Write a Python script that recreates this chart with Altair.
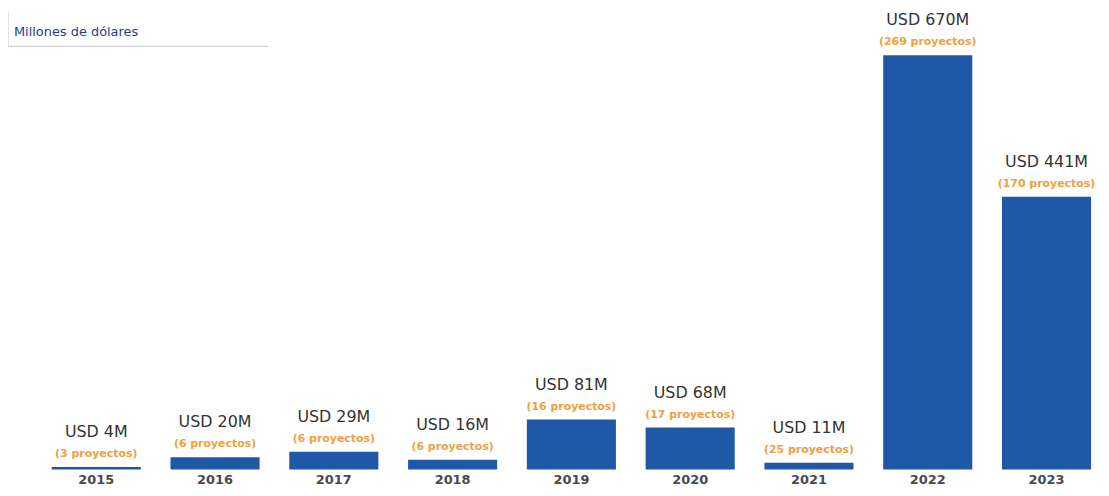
import altair as alt
import pandas as pd

years = ["2015", "2016", "2017", "2018", "2019", "2020", "2021", "2022", "2023"]
values = [4, 20, 29, 16, 81, 68, 11, 670, 441]
projects = [3, 6, 6, 6, 16, 17, 25, 269, 170]

df = pd.DataFrame({
    "year": years,
    "value": values,
    "usd": [f"USD {v}M" for v in values],
    "proj": [f"({p} proyectos)" for p in projects],
})

FONT = "DejaVu Sans"
x = alt.X("year:N", sort=years, title=None,
          scale=alt.Scale(paddingInner=0.25, paddingOuter=0),
          axis=alt.Axis(labelAngle=0, ticks=False, domain=False, labelFont=FONT,
                        labelFontSize=13, labelFontWeight="bold", labelColor="#4a4a4a",
                        labelPadding=4))
y = alt.Y("value:Q", scale=alt.Scale(domain=[0, 670], nice=False), axis=None)

base = alt.Chart(df)
bars = base.mark_bar(color="#1f58a6", clip=False).encode(x=x, y=y)
usd = base.mark_text(font=FONT, fontSize=16, color="#333333", dy=-35,
                     baseline="middle").encode(x=x, y=y, text="usd:N")
proj = base.mark_text(font=FONT, fontSize=11, fontWeight="bold", color="#f0a040", dy=-13,
                      baseline="middle").encode(x=x, y=y, text="proj:N")

title_df = pd.DataFrame({"t": ["Millones de dólares"]})
title = alt.Chart(title_df).mark_text(font=FONT, fontSize=13, color="#2d3a8c", align="left",
                                      baseline="middle").encode(
    x=alt.value(-38), y=alt.value(-23), text="t:N")
vline = alt.Chart(title_df).mark_rule(color="#c8c8c8", strokeWidth=1).encode(
    x=alt.value(-44), y=alt.value(-44), y2=alt.value(-9))
hline = alt.Chart(title_df).mark_rule(color="#c8c8c8", strokeWidth=1).encode(
    x=alt.value(-44), x2=alt.value(218), y=alt.value(-9))

chart = alt.layer(bars, usd, proj, vline, hline, title).properties(
    width=1046, height=417,
    autosize=alt.AutoSizeParams(type="none"),
    padding={"left": 44, "top": 46, "right": 10, "bottom": 17},
).configure_view(stroke=None)

chart.save("out.html", embed_options={"renderer": "svg", "actions": False})
